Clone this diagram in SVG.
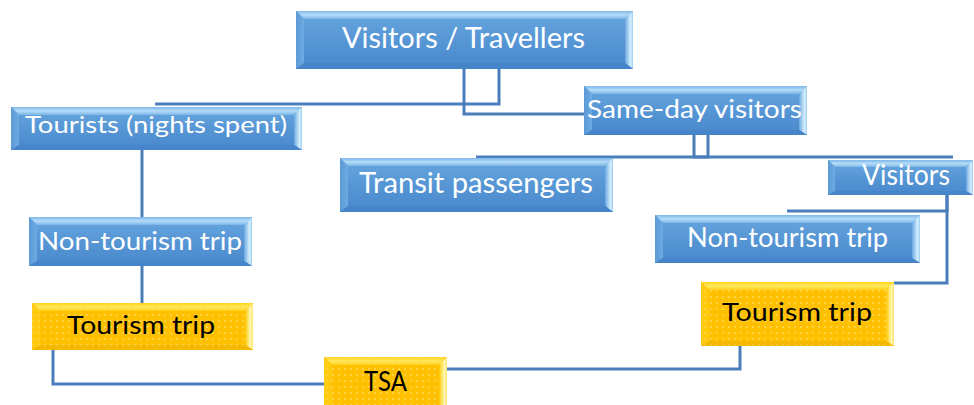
<svg xmlns="http://www.w3.org/2000/svg" width="974" height="405" viewBox="0 0 974 405">
  <defs>
    <linearGradient id="blueFace" x1="0" y1="0" x2="0" y2="1">
      <stop offset="0" stop-color="#66a6df"/>
      <stop offset="1" stop-color="#4887cb"/>
    </linearGradient>
    <linearGradient id="blueTop" x1="0" y1="0" x2="0" y2="1">
      <stop offset="0" stop-color="#7fb8e8"/>
      <stop offset="0.5" stop-color="#b4dcf8"/>
      <stop offset="1" stop-color="#7cb5e6"/>
    </linearGradient>
    <linearGradient id="blueLeft" x1="0" y1="0" x2="1" y2="0">
      <stop offset="0" stop-color="#5c9ad6"/>
      <stop offset="1" stop-color="#6eaae2"/>
    </linearGradient>
    <linearGradient id="blueRight" x1="0" y1="0" x2="1" y2="0">
      <stop offset="0" stop-color="#6aa8e0"/>
      <stop offset="0.7" stop-color="#d6efff"/>
      <stop offset="1" stop-color="#9ccdf0"/>
    </linearGradient>
    <linearGradient id="yellowTop" x1="0" y1="0" x2="0" y2="1">
      <stop offset="0" stop-color="#ffd21a"/>
      <stop offset="0.5" stop-color="#ffe85a"/>
      <stop offset="1" stop-color="#ffd01a"/>
    </linearGradient>
    <linearGradient id="yellowRight" x1="0" y1="0" x2="1" y2="0">
      <stop offset="0" stop-color="#ffc800"/>
      <stop offset="0.7" stop-color="#fff8b8"/>
      <stop offset="1" stop-color="#ffe060"/>
    </linearGradient>
    <pattern id="dots" width="6" height="6" patternUnits="userSpaceOnUse">
      <rect width="6" height="6" fill="#ffc000"/>
      <circle cx="3" cy="3" r="0.8" fill="#ffd860"/>
    </pattern>
    <pattern id="dotsTop" width="6" height="6" patternUnits="userSpaceOnUse">
      <circle cx="3" cy="3" r="0.8" fill="#fff3b0" opacity="0.45"/>
    </pattern>
  </defs>
  <style>
    .face { fill: url(#blueFace); }
    .top { fill: url(#blueTop); }
    .left { fill: url(#blueLeft); }
    .right { fill: url(#blueRight); }
    .bottom { fill: #4685c9; }
    .yface { fill: url(#dots); }
    .ytop { fill: url(#yellowTop); }
    .yleft { fill: #ffca10; }
    .yright { fill: url(#yellowRight); }
    .ybottom { fill: #f5b800; }
    .ydots { fill: url(#dotsTop); }
    .lbl { font-family: Lato, "Liberation Sans", sans-serif; fill: #ffffff; text-anchor: middle; }
    .dark { fill: #000000; }
    .conn path { fill: none; stroke: #4a7ebb; stroke-width: 3; }
  </style>

  <g class="conn" id="connectors">
    <path d="M499,69 V104 H155"/>
    <path d="M464,69 V114 H584"/>
    <path d="M694,135 V157 H953"/>
    <path d="M708,135 V157 H476"/>
    <path d="M142,150 V217"/>
    <path d="M142,266 V303"/>
    <path d="M947,195 V211 H787"/>
    <path d="M947,195 V283 H894"/>
    <path d="M53,350 V384 H324"/>
    <path d="M740,346 V369 H447"/>
  </g>

  <!-- Visitors / Travellers: 296,11 337x58 -->
  <g id="visitors-travellers">
    <rect class="face" x="296" y="11" width="337" height="58"/>
    <polygon class="top" points="296,11 633,11 625,19 304,19"/>
    <polygon class="left" points="296,11 304,19 304,63 296,69"/>
    <polygon class="right" points="633,11 633,69 625,63 625,19"/>
    <polygon class="bottom" points="296,69 633,69 625,63 304,63"/>
    <text class="lbl" x="463.5" y="48" font-size="28" textLength="243" lengthAdjust="spacingAndGlyphs">Visitors / Travellers</text>
  </g>

  <!-- Tourists: 11,107 291x43 -->
  <g id="tourists">
    <rect class="face" x="11" y="107" width="291" height="43"/>
    <polygon class="top" points="11,107 302,107 294,115 19,115"/>
    <polygon class="left" points="11,107 19,115 19,145 11,150"/>
    <polygon class="right" points="302,107 302,150 294,145 294,115"/>
    <polygon class="bottom" points="11,150 302,150 294,145 19,145"/>
    <text class="lbl" x="156" y="133" font-size="24" textLength="262" lengthAdjust="spacingAndGlyphs">Tourists (nights spent)</text>
  </g>

  <!-- Same-day visitors: 584,86 223x49 -->
  <g id="same-day">
    <rect class="face" x="584" y="86" width="223" height="49"/>
    <polygon class="top" points="584,86 807,86 799,94 592,94"/>
    <polygon class="left" points="584,86 592,94 592,130 584,135"/>
    <polygon class="right" points="807,86 807,135 799,130 799,94"/>
    <polygon class="bottom" points="584,135 807,135 799,130 592,130"/>
    <text class="lbl" x="694.5" y="118" font-size="25" textLength="215" lengthAdjust="spacingAndGlyphs">Same-day visitors</text>
  </g>

  <!-- Transit passengers: 340,158 273x54 -->
  <g id="transit">
    <rect class="face" x="340" y="158" width="273" height="54"/>
    <polygon class="top" points="340,158 613,158 605,166 348,166"/>
    <polygon class="left" points="340,158 348,166 348,206 340,212"/>
    <polygon class="right" points="613,158 613,212 605,206 605,166"/>
    <polygon class="bottom" points="340,212 613,212 605,206 348,206"/>
    <text class="lbl" x="476" y="193" font-size="29" textLength="234" lengthAdjust="spacingAndGlyphs">Transit passengers</text>
  </g>

  <!-- Visitors: 828,160 145x35 -->
  <g id="visitors">
    <rect class="face" x="828" y="160" width="145" height="35"/>
    <polygon class="top" points="828,160 973,160 966,167 835,167"/>
    <polygon class="left" points="828,160 835,167 835,191 828,195"/>
    <polygon class="right" points="973,160 973,195 966,191 966,167"/>
    <polygon class="bottom" points="828,195 973,195 966,191 835,191"/>
    <text class="lbl" x="906" y="185" font-size="28" textLength="88" lengthAdjust="spacingAndGlyphs">Visitors</text>
  </g>

  <!-- Non-tourism trip (left): 29,217 223x49 -->
  <g id="non-tourism-left">
    <rect class="face" x="29" y="217" width="223" height="49"/>
    <polygon class="top" points="29,217 252,217 244,225 37,225"/>
    <polygon class="left" points="29,217 37,225 37,261 29,266"/>
    <polygon class="right" points="252,217 252,266 244,261 244,225"/>
    <polygon class="bottom" points="29,266 252,266 244,261 37,261"/>
    <text class="lbl" x="140" y="250" font-size="25" textLength="204" lengthAdjust="spacingAndGlyphs">Non-tourism trip</text>
  </g>

  <!-- Non-tourism trip (right): 655,215 265x48 -->
  <g id="non-tourism-right">
    <rect class="face" x="655" y="215" width="265" height="48"/>
    <polygon class="top" points="655,215 920,215 912,223 663,223"/>
    <polygon class="left" points="655,215 663,223 663,258 655,263"/>
    <polygon class="right" points="920,215 920,263 912,258 912,223"/>
    <polygon class="bottom" points="655,263 920,263 912,258 663,258"/>
    <text class="lbl" x="787.5" y="247" font-size="26" textLength="201" lengthAdjust="spacingAndGlyphs">Non-tourism trip</text>
  </g>

  <!-- Tourism trip (left): 32,303 221x47 -->
  <g id="tourism-left">
    <rect class="yface" x="32" y="303" width="221" height="47"/>
    <polygon class="ytop" points="32,303 253,303 245,311 40,311"/>
    <polygon class="yleft" points="32,303 40,311 40,345 32,350"/>
    <polygon class="yright" points="253,303 253,350 245,345 245,311"/>
    <polygon class="ybottom" points="32,350 253,350 245,345 40,345"/>
    <rect class="ydots" x="32" y="303" width="221" height="47"/>
    <text class="lbl dark" x="141" y="334" font-size="25" textLength="148" lengthAdjust="spacingAndGlyphs">Tourism trip</text>
  </g>

  <!-- Tourism trip (right): 701,282 193x64 -->
  <g id="tourism-right">
    <rect class="yface" x="701" y="282" width="193" height="64"/>
    <polygon class="ytop" points="701,282 894,282 886,290 709,290"/>
    <polygon class="yleft" points="701,282 709,290 709,341 701,346"/>
    <polygon class="yright" points="894,282 894,346 886,341 886,290"/>
    <polygon class="ybottom" points="701,346 894,346 886,341 709,341"/>
    <rect class="ydots" x="701" y="282" width="193" height="64"/>
    <text class="lbl dark" x="797" y="321" font-size="25" textLength="150" lengthAdjust="spacingAndGlyphs">Tourism trip</text>
  </g>

  <!-- TSA: 324,357 123x48 -->
  <g id="tsa">
    <rect class="yface" x="324" y="357" width="123" height="48"/>
    <polygon class="ytop" points="324,357 447,357 439,365 332,365"/>
    <polygon class="yleft" points="324,357 332,365 332,405 324,405"/>
    <polygon class="yright" points="447,357 447,405 439,405 439,365"/>
    <rect class="ydots" x="324" y="357" width="123" height="48"/>
    <text class="lbl dark" x="385.5" y="391" font-size="26" textLength="43" lengthAdjust="spacingAndGlyphs">TSA</text>
  </g>
</svg>
